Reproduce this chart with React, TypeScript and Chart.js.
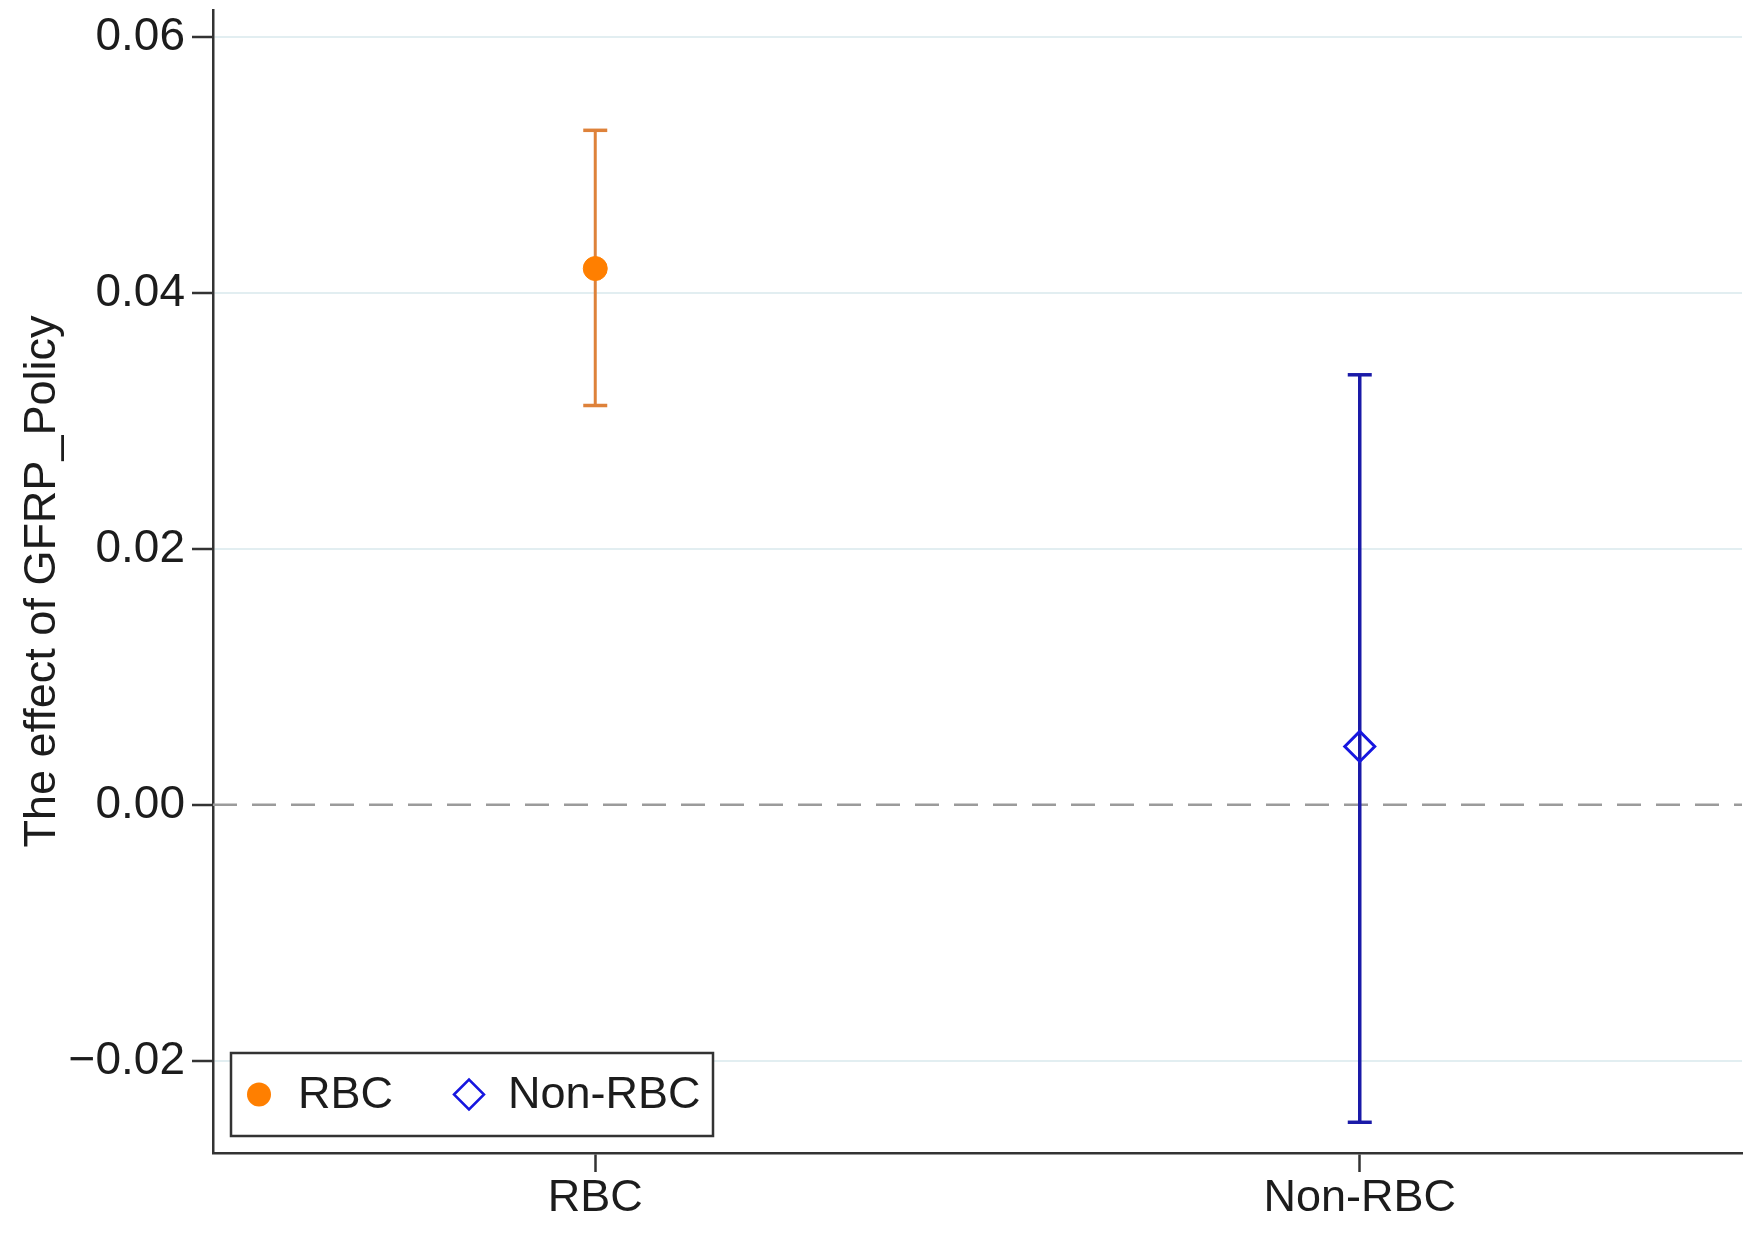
import React, { useEffect, useRef } from 'react';
import { Chart, registerables } from 'chart.js';

Chart.register(...registerables);

// ---- data ----
const categories = ['RBC', 'Non-RBC'];
const estimates = [0.0419, 0.00456];
const lowerCI = [0.0312, -0.0248];
const upperCI = [0.0527, 0.0336];
const yTickValues = [-0.02, 0, 0.02, 0.04, 0.06];
const yMin = -0.0272;
const yMax = 0.0621;
const yTitle = 'The effect of GFRP_Policy';

// ---- styles ----
const FONT = "'Liberation Sans', Arial, Helvetica, sans-serif";
const pointColors = ['#FF7F00', '#1616E0'];
const barColors = ['#DE823A', '#1A1AA8'];
const pointStyles = ['circle', 'rectRot'];
const AXIS = '#333333';
const TEXT = '#1c1c1c';

const fmt = (v: number) => {
  const s = Math.abs(v).toFixed(2);
  return v < -1e-9 ? '\u2212' + s : s;
};

const boxLegend = {
  id: 'boxLegend',
  afterDraw(chart: any) {
    const { ctx, chartArea } = chart;
    const left = chartArea.left + 18;
    const bottom = chartArea.bottom - 17;
    const w = 482;
    const h = 83;
    const top = bottom - h;
    const cy = top + h / 2;
    ctx.save();
    ctx.fillStyle = '#ffffff';
    ctx.fillRect(left, top, w, h);
    ctx.lineWidth = 2.5;
    ctx.strokeStyle = AXIS;
    ctx.strokeRect(left, top, w, h);

    // RBC symbol
    ctx.beginPath();
    ctx.arc(left + 28, cy, 12, 0, Math.PI * 2);
    ctx.fillStyle = pointColors[0];
    ctx.fill();
    // Non-RBC symbol
    const dx = left + 238;
    const r = 15;
    ctx.beginPath();
    ctx.moveTo(dx - r, cy);
    ctx.lineTo(dx, cy - r);
    ctx.lineTo(dx + r, cy);
    ctx.lineTo(dx, cy + r);
    ctx.closePath();
    ctx.lineWidth = 2.5;
    ctx.strokeStyle = pointColors[1];
    ctx.stroke();

    ctx.fillStyle = TEXT;
    ctx.font = `45px ${FONT}`;
    ctx.textBaseline = 'middle';
    ctx.textAlign = 'left';
    ctx.fillText(categories[0], left + 67, cy + 1);
    ctx.fillText(categories[1], left + 277, cy + 1);
    ctx.restore();
  },
};

export default function App() {
  const ref = useRef<HTMLCanvasElement | null>(null);

  useEffect(() => {
    document.body.style.margin = '0';
    const canvas = ref.current;
    if (!canvas) return;

    const datasets: any[] = [];
    // zero reference line
    datasets.push({
      type: 'line',
      label: 'zero',
      data: [
        { x: -0.5, y: 0 },
        { x: 1.5, y: 0 },
      ],
      borderColor: '#9b9b9b',
      borderWidth: 2.5,
      borderDash: [24, 15],
      pointRadius: 0,
      order: 5,
      clip: false,
    });
    // error bars
    categories.forEach((c, i) => {
      datasets.push({
        type: 'line',
        label: c + ' CI',
        data: [
          { x: i, y: lowerCI[i] },
          { x: i, y: upperCI[i] },
        ],
        borderColor: barColors[i],
        borderWidth: i === 0 ? 3 : 3.5,
        pointStyle: 'line',
        pointRadius: 12,
        pointBorderWidth: 3.5,
        pointBorderColor: barColors[i],
        pointBackgroundColor: barColors[i],
        order: 3,
      });
    });
    // point estimates
    categories.forEach((c, i) => {
      datasets.push({
        type: 'scatter',
        label: c,
        data: [{ x: i, y: estimates[i] }],
        pointStyle: pointStyles[i],
        pointRadius: i === 0 ? 12 : 15,
        backgroundColor: i === 0 ? pointColors[0] : 'rgba(0,0,0,0)',
        borderColor: pointColors[i],
        borderWidth: i === 0 ? 1 : 3,
        order: 1,
      });
    });

    const chart = new Chart(canvas, {
      type: 'scatter',
      data: { datasets },
      options: {
        animation: false,
        responsive: false,
        devicePixelRatio: 1,
        layout: { autoPadding: false, padding: { left: 0, top: 10, right: 16, bottom: 0 } },
        plugins: {
          legend: { display: false },
          tooltip: { enabled: false },
        },
        scales: {
          x: {
            type: 'linear',
            min: -0.5,
            max: 1.5,
            afterBuildTicks: (scale: any) => {
              scale.ticks = categories.map((_, i) => ({ value: i }));
            },
            afterFit: (scale: any) => {
              scale.height = 80;
              scale.paddingLeft = 0;
              scale.paddingRight = 0;
            },
            ticks: {
              callback: (v: any) => categories[Math.round(Number(v))] ?? '',
              font: { family: FONT, size: 45 },
              color: TEXT,
              padding: 0,
              maxRotation: 0,
              autoSkip: false,
            },
            grid: {
              drawOnChartArea: false,
              drawTicks: true,
              tickLength: 19,
              tickWidth: 2.5,
              tickColor: AXIS,
            },
            border: { display: true, color: AXIS, width: 2.5 },
          },
          y: {
            type: 'linear',
            min: yMin,
            max: yMax,
            afterBuildTicks: (scale: any) => {
              scale.ticks = yTickValues.map((v) => ({ value: v }));
            },
            afterFit: (scale: any) => {
              scale.width = 213;
              scale.paddingTop = 0;
              scale.paddingBottom = 0;
            },
            ticks: {
              callback: (v: any) => fmt(Number(v)),
              font: { family: FONT, size: 46, lineHeight: 0.3 },
              color: TEXT,
              padding: 7,
              autoSkip: false,
            },
            grid: {
              color: (ctx: any) =>
                ctx.tick && Math.abs(ctx.tick.value) < 1e-9 ? 'rgba(0,0,0,0)' : '#e2eef1',
              lineWidth: 2,
              drawTicks: true,
              tickLength: 21,
              tickWidth: 2.5,
              tickColor: AXIS,
            },
            border: { display: true, color: AXIS, width: 2.5 },
            title: {
              display: true,
              text: yTitle,
              font: { family: FONT, size: 45 },
              color: TEXT,
              padding: { top: 16, bottom: 0 },
            },
          },
        },
      },
      plugins: [boxLegend],
    } as any);

    return () => chart.destroy();
  }, []);

  return (
    <canvas
      ref={ref}
      width={1758}
      height={1233}
      style={{ display: 'block', width: 1758, height: 1233 }}
    />
  );
}
